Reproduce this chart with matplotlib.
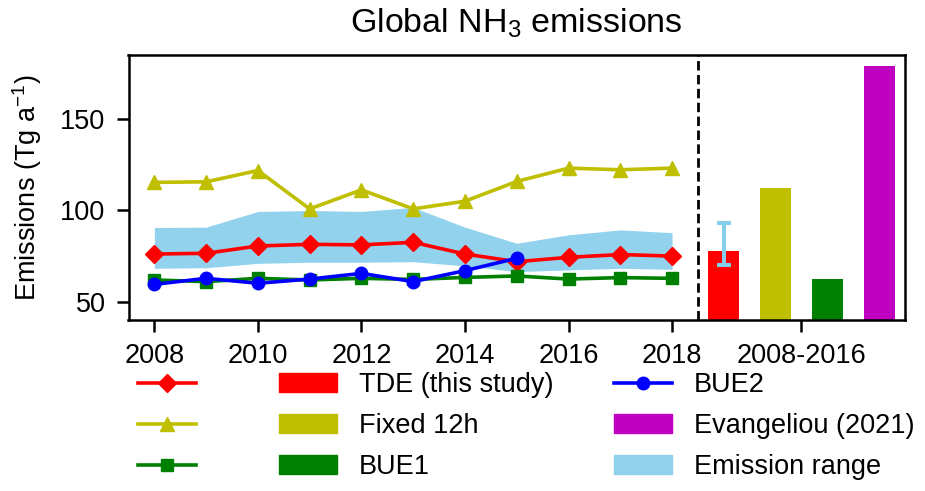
import matplotlib
matplotlib.use("Agg")
import matplotlib.pyplot as plt
from matplotlib.patches import Patch

plt.rcParams['font.family'] = ['Liberation Sans', 'DejaVu Sans']
plt.rcParams['mathtext.fontset'] = 'custom'
plt.rcParams['mathtext.rm'] = 'Liberation Sans'
plt.rcParams['mathtext.it'] = 'Liberation Sans:italic'

years = [2008, 2009, 2010, 2011, 2012, 2013, 2014, 2015, 2016, 2017, 2018]
tde = [76.1, 76.5, 80.5, 81.4, 81.1, 82.5, 76.1, 71.9, 74.3, 75.8, 75.0]
fixed12h = [115.3, 115.6, 121.8, 100.8, 111.2, 100.8, 105.0, 115.8, 123.1, 122.2, 123.1]
bue1 = [61.9, 61.0, 62.8, 61.9, 62.8, 62.2, 63.3, 64.1, 62.4, 63.2, 62.8]
bue2_years = [2008, 2009, 2010, 2011, 2012, 2013, 2014, 2015]
bue2 = [59.5, 62.8, 60.1, 62.4, 65.5, 61.0, 67.0, 73.8]
range_low = [68.3, 68.6, 71.0, 71.6, 71.6, 71.9, 69.6, 66.5, 67.4, 68.3, 67.7]
range_high = [90.6, 90.8, 99.4, 99.9, 99.4, 101.6, 90.8, 82.0, 86.6, 89.3, 87.8]

bar_pos = [2019, 2020, 2021, 2022]
bar_values = [77.8, 112.3, 62.4, 179.2]
bar_colors = ['r', 'y', 'g', 'm']
tde_bar_err_low = 69.9
tde_bar_err_high = 93.3

xticks = [2008, 2010, 2012, 2014, 2016, 2018, 2020.5]
xticklabels = ['2008', '2010', '2012', '2014', '2016', '2018', '2008-2016']

FS = 19.5
fig = plt.figure(figsize=(9.25, 4.91), dpi=100)
ax = fig.add_axes([128.5/925, 1-320/491, (905-128.5)/925, (320-55)/491])

lw = 2.6
ms = 9
band = ax.fill_between(years, range_low, range_high, color='skyblue', alpha=0.9, lw=0, zorder=1)
l_tde, = ax.plot(years, tde, color='r', marker='D', lw=lw, ms=ms, zorder=3)
l_fix, = ax.plot(years, fixed12h, color='y', marker='^', lw=lw, ms=ms+1, zorder=3)
l_b1, = ax.plot(years, bue1, color='g', marker='s', lw=lw, ms=ms, zorder=3)
l_b2, = ax.plot(bue2_years, bue2, color='b', marker='o', lw=lw, ms=ms, zorder=4)

bars = ax.bar(bar_pos, bar_values, width=0.6, color=bar_colors, zorder=2)
ax.errorbar([bar_pos[0]], [(tde_bar_err_low + tde_bar_err_high) / 2],
            yerr=[[(tde_bar_err_high - tde_bar_err_low) / 2]],
            fmt='none', ecolor='skyblue', elinewidth=2.9, capsize=5, capthick=2.9, zorder=5)

ax.axvline(2018.5, color='k', ls='--', lw=2.0, dashes=(3.4, 1.6))

ax.set_xlim(2007.5, 2022.5)
ax.set_ylim(40, 185)
ax.set_yticks([50, 100, 150])
ax.set_xticks(xticks)
ax.set_xticklabels(xticklabels)
ax.tick_params(labelsize=FS, length=8.5, width=1.8, pad=8)
for s in ax.spines.values():
    s.set_linewidth(1.8)

ax.set_ylabel('Emissions (Tg a$^{-1}$)', fontsize=FS, labelpad=12)
ax.set_title('Global NH$_3$ emissions', fontsize=24.5, pad=16)

handles = [l_tde, l_fix, l_b1,
           Patch(color='r'), Patch(color='y'), Patch(color='g'),
           l_b2, Patch(color='m'), Patch(facecolor='skyblue', alpha=0.9, edgecolor='skyblue')]
labels = ['', '', '', 'TDE (this study)', 'Fixed 12h', 'BUE1',
          'BUE2', 'Evangeliou (2021)', 'Emission range']
fig.legend(handles, labels, ncol=3, loc='upper left', bbox_to_anchor=(138/925, 1-372/491),
           frameon=False, fontsize=FS, borderpad=0, borderaxespad=0, handlelength=2.15,
           handletextpad=0.8, columnspacing=2.25, labelspacing=0.56)

fig.savefig('out.png', dpi=100)
